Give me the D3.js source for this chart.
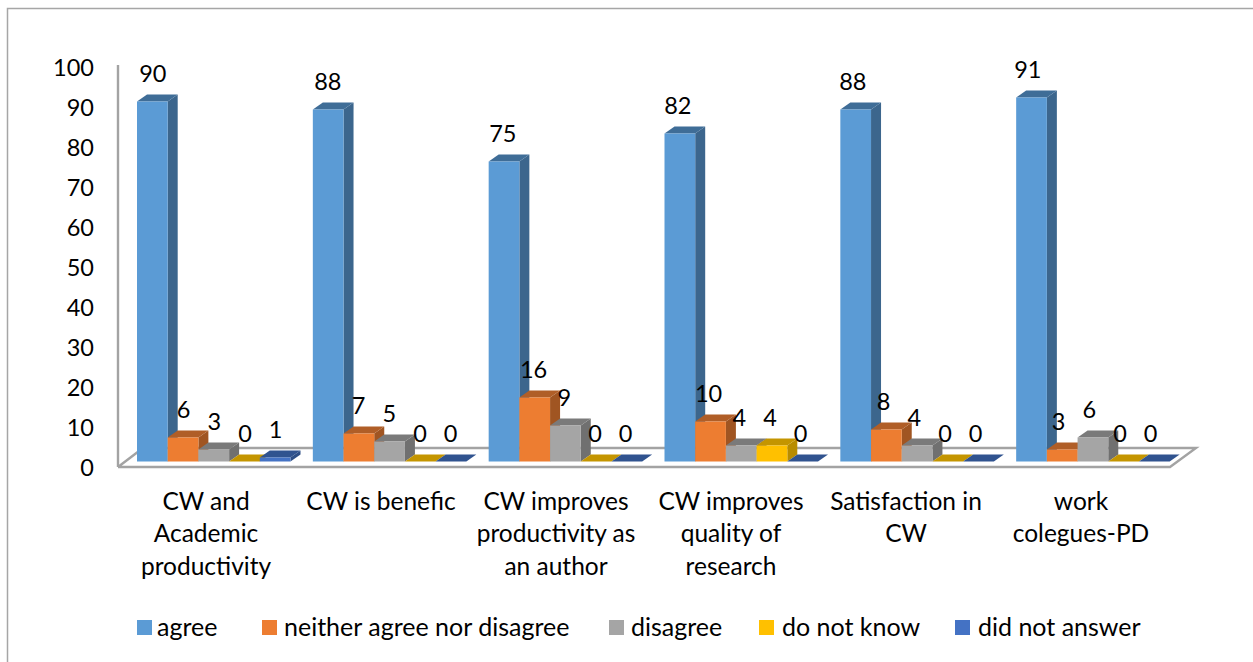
<!DOCTYPE html>
<html>
<head>
<meta charset="utf-8">
<script src="https://cdn.jsdelivr.net/npm/d3@7/dist/d3.min.js"></script>
<style>
  html, body { margin: 0; padding: 0; background: #fff; }
  svg { display: block; }
  text { font-family: Lato, "Open Sans", sans-serif; fill: #000; }
</style>
</head>
<body>
<svg id="chart" width="1253" height="662"></svg>
<script>
const categories = [
  ["CW and", "Academic", "productivity"],
  ["CW is benefic"],
  ["CW improves", "productivity as", "an author"],
  ["CW improves", "quality of", "research"],
  ["Satisfaction in", "CW"],
  ["work", "colegues-PD"]
];
const seriesNames = ["agree", "neither agree nor disagree", "disagree", "do not know", "did not answer"];
const agree = [90, 88, 75, 82, 88, 91];
const neither = [6, 7, 16, 10, 8, 3];
const disagree = [3, 5, 9, 4, 4, 6];
const doNotKnow = [0, 0, 0, 4, 0, 0];
const didNotAnswer = [1, 0, 0, 0, 0, 0];
const seriesValues = [agree, neither, disagree, doNotKnow, didNotAnswer];
const frontColors = ["#5b9bd5", "#ed7d31", "#a5a5a5", "#ffc000", "#4472c4"];
const topColors = ["#3f6d97", "#b05e27", "#7a7a7a", "#c49500", "#30538f"];
const sideColors = ["#3c668d", "#a05522", "#707070", "#b88c00", "#2d4e86"];
const yTicks = d3.range(0, 101, 10);

const svg = d3.select("#chart");
const numberSize = 23.5;
const textSize = 25;
const categorySize = 24.5;
const dx = 10, dy = 7;

const y = d3.scaleLinear().domain([0, 100]).range([461.5, 61.5]);
const x0 = d3.scaleBand().domain(d3.range(categories.length)).range([119, 1174]);
const groupPad = 18;
const x1 = d3.scaleBand().domain(d3.range(seriesNames.length)).range([groupPad, groupPad + 153.5]);
const labelX = d3.scalePoint().domain(d3.range(categories.length)).range([206, 1081]);

// Chart frame: only the top and left edges fall inside the page
svg.append("path")
  .attr("d", d3.line()([[1253, 8.5], [7.5, 8.5], [7.5, 662]]))
  .attr("fill", "none").attr("stroke", "#a6a6a6").attr("stroke-width", 1.5);

// Floor of the 3D plot
const floorFront = 467;
svg.append("path")
  .attr("d", d3.line()([[118, floorFront], [1170, floorFront], [1196, 448], [143, 448], [118, floorFront]]))
  .attr("fill", "#fff").attr("stroke", "#a3a3a3").attr("stroke-width", 2.4);

// Value axis
svg.append("line")
  .attr("x1", 118).attr("x2", 118).attr("y1", 65).attr("y2", floorFront)
  .attr("stroke", "#a3a3a3").attr("stroke-width", 2.4);

const yAxis = d3.axisLeft(y).tickValues(yTicks).tickSize(0).tickPadding(0);
svg.append("g")
  .attr("transform", "translate(94,6.5)")
  .call(yAxis)
  .call(g => g.select(".domain").remove())
  .call(g => g.selectAll("text").attr("font-size", numberSize).style("font-family", "Lato"));

const groups = svg.append("g").selectAll("g")
  .data(categories)
  .join("g")
  .attr("transform", (d, i) => `translate(${x0(i)},0)`);

// Bars are painted left to right so each front face covers its neighbour's side face
groups.each(function (cat, ci) {
  const g = d3.select(this);
  seriesNames.forEach((name, si) => {
    const v = seriesValues[si][ci];
    const xl = x1(si), w = x1.bandwidth();
    const yt = y(v), yb = y(0);
    g.append("path")
      .attr("d", d3.line()([[xl + w, yt], [xl + w + dx, yt - dy], [xl + w + dx, yb - dy], [xl + w, yb]]))
      .attr("fill", sideColors[si]);
    g.append("path")
      .attr("d", d3.line()([[xl, yt], [xl + dx, yt - dy], [xl + w + dx, yt - dy], [xl + w, yt]]))
      .attr("fill", topColors[si]);
    g.append("rect")
      .attr("x", xl).attr("y", yt).attr("width", w).attr("height", yb - yt)
      .attr("fill", frontColors[si]);
  });
});

// Value labels sit above the back edge of each bar top and follow the category label spacing
const valueLabels = svg.append("g");
categories.forEach((cat, ci) => {
  seriesNames.forEach((name, si) => {
    const v = seriesValues[si][ci];
    valueLabels.append("text")
      .attr("x", labelX(ci) - 87 + x1(si) + x1.bandwidth() / 2 + 0.5)
      .attr("y", y(v) - 19.5)
      .attr("text-anchor", "middle")
      .attr("font-size", numberSize)
      .text(v);
  });
});

// Category labels
const lineHeight = 32.5;
svg.append("g").selectAll("text")
  .data(categories)
  .join("text")
  .attr("text-anchor", "middle")
  .attr("font-size", categorySize)
  .each(function (lines, i) {
    d3.select(this).selectAll("tspan")
      .data(lines)
      .join("tspan")
      .attr("x", labelX(i))
      .attr("y", (d, k) => 509.5 + k * lineHeight)
      .text(d => d);
  });

// Legend
const swatchX = [137, 262, 609, 759, 955];
const legendTextX = [157, 284, 631, 782, 978];
const legend = svg.append("g").selectAll("g")
  .data(seriesNames)
  .join("g");
legend.append("rect")
  .attr("x", (d, i) => swatchX[i]).attr("y", 620)
  .attr("width", 15).attr("height", 15)
  .attr("fill", (d, i) => frontColors[i]);
legend.append("text")
  .attr("x", (d, i) => legendTextX[i]).attr("y", 635.5)
  .attr("font-size", textSize)
  .text(d => d);
</script>
</body>
</html>
